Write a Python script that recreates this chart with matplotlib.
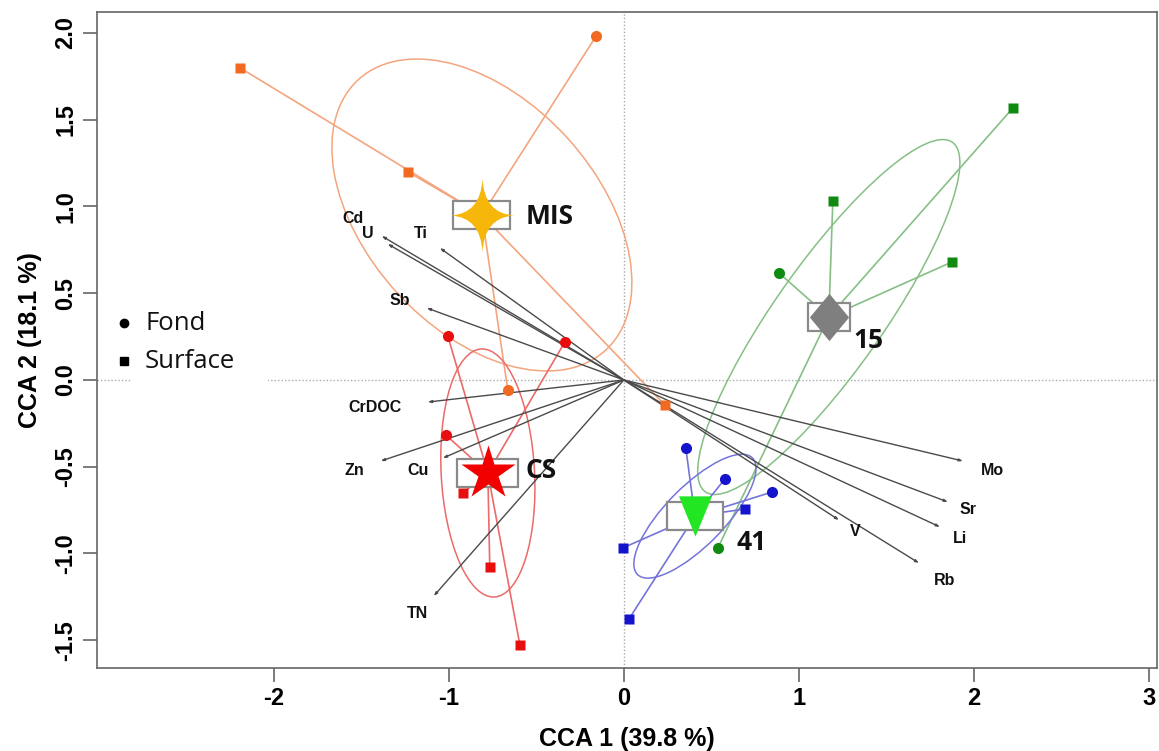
import numpy as np
import matplotlib
matplotlib.use("Agg")
import matplotlib.pyplot as plt
from matplotlib.patches import Ellipse, Rectangle
from matplotlib.path import Path

# ---------------- data ----------------
group_names = ["MIS", "CS", "15", "41"]

# site scores per group (x, y, kind: F = Fond, S = Surface)
mis_x = [-2.194, -1.234, 0.234, -0.160, -0.663]
mis_y = [1.800, 1.200, -0.144, 1.980, -0.058]
mis_kind = ["S", "S", "S", "F", "F"]

cs_x = [-1.006, -0.337, -1.017, -0.920, -0.766, -0.594]
cs_y = [0.254, 0.219, -0.317, -0.651, -1.078, -1.527]
cs_kind = ["F", "F", "F", "S", "S", "S"]

g15_x = [2.223, 1.194, 1.874, 0.886, 0.537]
g15_y = [1.568, 1.032, 0.680, 0.617, -0.968]
g15_kind = ["S", "S", "S", "F", "F"]

g41_x = [0.354, 0.577, 0.846, 0.691, -0.006, 0.029]
g41_y = [-0.392, -0.571, -0.646, -0.744, -0.968, -1.378]
g41_kind = ["F", "F", "F", "S", "S", "S"]

# group centroids
cent_x = [-0.811, -0.777, 1.171, 0.406]
cent_y = [0.951, -0.536, 0.363, -0.785]

# dispersion ellipses (sd along x, sd along y, correlation)
ell_sx = [0.857, 0.269, 0.749, 0.349]
ell_sy = [0.899, 0.715, 1.023, 0.357]
ell_rho = [-0.433, -0.12, 0.869, 0.77]

# group label positions
glab_x = [-0.56, -0.56, 1.31, 0.645]
glab_y = [0.94, -0.52, 0.225, -0.935]

# environmental vectors
env_names = ["Cd", "U", "Ti", "Sb", "CrDOC", "Zn", "Cu", "TN",
             "Mo", "Sr", "Li", "V", "Rb"]
env_x = [-1.383, -1.349, -1.051, -1.126, -1.120, -1.389, -1.034, -1.086,
         1.937, 1.851, 1.806, 1.229, 1.686]
env_y = [0.830, 0.784, 0.761, 0.415, -0.127, -0.467, -0.450, -1.245,
         -0.467, -0.703, -0.847, -0.807, -1.055]
envlab_x = [-1.549, -1.463, -1.160, -1.280, -1.420, -1.537, -1.177, -1.177,
            2.103, 1.966, 1.920, 1.320, 1.834]
envlab_y = [0.928, 0.847, 0.847, 0.460, -0.156, -0.519, -0.519, -1.343,
            -0.519, -0.749, -0.911, -0.876, -1.153]

x_ticks = [-2, -1, 0, 1, 2, 3]
y_ticks = [-1.5, -1.0, -0.5, 0.0, 0.5, 1.0, 1.5, 2.0]
x_label = "CCA 1 (39.8 %)"
y_label = "CCA 2 (18.1 %)"
legend_labels = ["Fond", "Surface"]

# ---------------- styles ----------------
W, H = 1159, 751
point_col = ["#F26A21", "#E80E0E", "#118A11", "#1414CC"]
line_col = ["#F3A57E", "#EC6A6A", "#86BF86", "#7474DA"]
cent_col = ["#F7B70A", "#F20000", "#7F7F7F", "#22E622"]
box_w = [0.326, 0.349, 0.240, 0.320]
box_h = 0.162

star4 = Path([(0, 1), (0.05, 0.05), (0.86, 0), (0.05, -0.05), (0, -1),
              (-0.05, -0.05), (-0.86, 0), (-0.05, 0.05), (0, 1), (0, 1)],
             [Path.MOVETO, Path.CURVE3, Path.CURVE3, Path.CURVE3, Path.CURVE3,
              Path.CURVE3, Path.CURVE3, Path.CURVE3, Path.CURVE3, Path.CLOSEPOLY])
diamond = Path([(0, 1), (0.83, 0), (0, -1), (-0.83, 0), (0, 1)],
               [Path.MOVETO, Path.LINETO, Path.LINETO, Path.LINETO, Path.CLOSEPOLY])
tri_down = Path([(-0.82, 1), (0.82, 1), (0, -1), (-0.82, 1)],
                [Path.MOVETO, Path.LINETO, Path.LINETO, Path.CLOSEPOLY])
cent_marker = [star4, "*", diamond, tri_down]
cent_ms = [53, 41, 34, 29]

fig = plt.figure(figsize=(W / 100, H / 100), dpi=100)
ax = fig.add_axes([97 / W, 1 - 668 / H, 1060 / W, 656 / H])
ax.set_xlim(-3.01, 3.046)
ax.set_ylim(-1.66, 2.121)

ax.axhline(0, color="#AAAAAA", ls=(0, (1, 1.5)), lw=1, zorder=0)
ax.axvline(0, color="#AAAAAA", ls=(0, (1, 1.5)), lw=1, zorder=0)

groups = [(mis_x, mis_y, mis_kind), (cs_x, cs_y, cs_kind),
          (g15_x, g15_y, g15_kind), (g41_x, g41_y, g41_kind)]

for i, (gx, gy, gk) in enumerate(groups):
    cx, cy = cent_x[i], cent_y[i]
    # ellipse
    sx, sy, r = ell_sx[i], ell_sy[i], ell_rho[i]
    cov = np.array([[sx * sx, r * sx * sy], [r * sx * sy, sy * sy]])
    vals, vecs = np.linalg.eigh(cov)
    ang = np.degrees(np.arctan2(vecs[1, 1], vecs[0, 1]))
    ax.add_patch(Ellipse((cx, cy), 2 * np.sqrt(vals[1]), 2 * np.sqrt(vals[0]),
                         angle=ang, fill=False, ec=line_col[i], lw=1.1, zorder=2))
    # spider
    for px, py in zip(gx, gy):
        ax.plot([cx, px], [cy, py], color=line_col[i], lw=1.2, zorder=2)

# environmental arrows
for name, ex, ey, lx, ly in zip(env_names, env_x, env_y, envlab_x, envlab_y):
    ax.annotate("", xy=(ex, ey), xytext=(0, 0),
                arrowprops=dict(arrowstyle="-|>,head_length=0.2,head_width=0.07",
                                color="#4A4A4A", lw=1.0, shrinkA=0, shrinkB=0),
                zorder=3)
    ax.text(lx, ly, name, ha="center", va="center", fontsize=11.5,
            fontweight="bold", family="Liberation Sans", color="#111111", zorder=6)

# site points
for i, (gx, gy, gk) in enumerate(groups):
    for px, py, k in zip(gx, gy, gk):
        ax.plot(px, py, marker="o" if k == "F" else "s", ms=8 if k == "F" else 7.3,
                color=point_col[i], mec="none", zorder=5)

# centroid boxes, markers, labels
for i in range(4):
    cx, cy = cent_x[i], cent_y[i]
    ax.add_patch(Rectangle((cx - box_w[i] / 2, cy - box_h / 2), box_w[i], box_h,
                           fc="white", ec="#8A8A8A", lw=1.6, zorder=6))
    ax.plot(cx, cy, marker=cent_marker[i], ms=cent_ms[i], color=cent_col[i],
            mec="none", zorder=7)
    ax.text(glab_x[i], glab_y[i], group_names[i], ha="left", va="center",
            fontsize=19, fontweight="bold", family="Open Sans", color="#111111",
            zorder=8)

# legend (manual)
tr = ax.transAxes
def axf(px, py):
    return (px - 97) / 1060, (668 - py) / 656

x0, y0 = axf(131, 395)
x1, y1 = axf(268, 300)
ax.add_patch(Rectangle((x0, y0), x1 - x0, y1 - y0, transform=tr, fc="white",
                       ec="none", zorder=4))
for j, (lab, mk, py) in enumerate(zip(legend_labels, ["o", "s"], [323, 361])):
    mx, my = axf(124, py)
    ax.plot(mx, my, marker=mk, ms=6 if mk == "o" else 5.5, color="black",
            transform=tr, zorder=5)
    tx, ty = axf(145, py + 1)
    ax.text(tx, ty, lab, transform=tr, ha="left", va="center", fontsize=18.5,
            family="Open Sans", color="#111111", zorder=5)

# axes styling
for s in ax.spines.values():
    s.set_color("#666666")
    s.set_linewidth(1.2)
ax.set_xticks(x_ticks)
ax.set_xticklabels([str(t) for t in x_ticks])
ax.set_yticks(y_ticks)
ax.set_yticklabels([f"{t:.1f}" for t in y_ticks], rotation=90, va="center")
ax.tick_params(direction="out", length=10, width=1.2, color="#666666",
               labelsize=17, pad=4)
for lab in ax.get_xticklabels() + ax.get_yticklabels():
    lab.set_fontweight("bold")
    lab.set_family("Liberation Sans")
ax.set_xlabel(x_label, fontsize=18, fontweight="bold", family="Liberation Sans",
              labelpad=12)
ax.set_ylabel(y_label, fontsize=18, fontweight="bold", family="Liberation Sans",
              labelpad=9)

fig.savefig("out.png", dpi=100)
